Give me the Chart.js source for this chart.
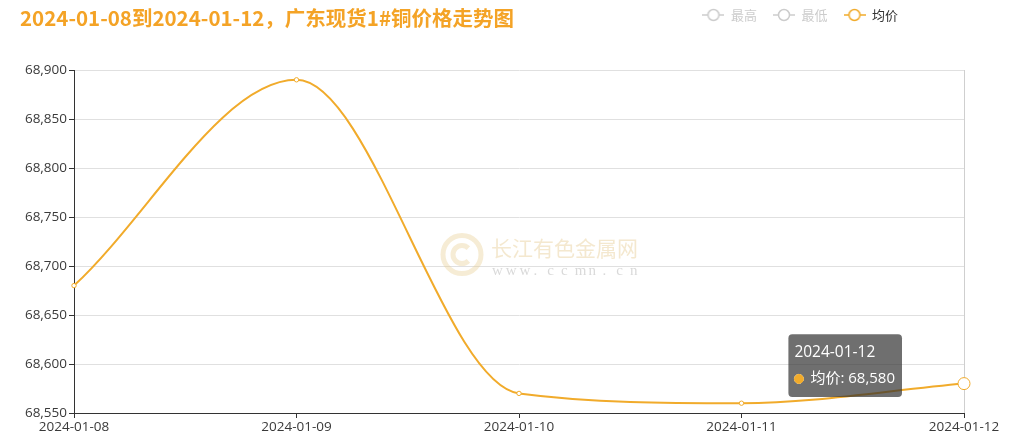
<!DOCTYPE html>
<html>
<head>
<meta charset="utf-8">
<script src="https://cdn.jsdelivr.net/npm/chart.js@4/dist/chart.umd.min.js"></script>
<style>
  html, body { margin: 0; padding: 0; background: #fff; }
  #wrap { width: 1014px; height: 442px; position: relative; }
</style>
</head>
<body>
<div id="wrap"><canvas id="price_chart" width="1014" height="442"></canvas></div>
<script>
//chart data
var dates = ['2024-01-08', '2024-01-09', '2024-01-10', '2024-01-11', '2024-01-12'];
var avgPrice = [68680, 68890, 68570, 68560, 68580];
var highPrice = [];
var lowPrice = [];
var yMin = 68550, yMax = 68900, yStep = 50;

var titleText = '2024-01-08到2024-01-12，广东现货1#铜价格走势图';
var seriesNames = ['最高', '最低', '均价'];

var orange = '#f1ab2b';
var gray = '#cccccc';
var tickFont = { family: "'Open Sans', 'Noto Sans CJK SC', sans-serif", size: 13.5 };

//little "-o-" icon used by the legend
function legendIcon(color)
{
    var c = document.createElement('canvas');
    c.width = 22; c.height = 14;
    var g = c.getContext('2d');
    g.strokeStyle = color;
    g.lineWidth = 1.5;
    g.beginPath(); g.moveTo(0, 7); g.lineTo(22, 7); g.stroke();
    g.fillStyle = '#fff';
    g.beginPath(); g.arc(11, 7, 5.5, 0, Math.PI * 2); g.fill(); g.stroke();
    return c;
}

//tooltip sits to the upper left of the hovered point
Chart.Tooltip.positioners.leftOf = function(items)
{
    if (!items.length) return false;
    var el = items[0].element;
    return { x: el.x - 62, y: el.y - 18 };
};

//faint site watermark in the middle of the plot
var watermark = {
    id: 'watermark',
    beforeDatasetsDraw: function(chart)
    {
        var ctx = chart.ctx, a = chart.chartArea;
        var cx = (a.left + a.right) / 2, cy = (a.top + a.bottom) / 2;
        ctx.save();
        //logo ring
        ctx.strokeStyle = 'rgba(232, 208, 150, 0.4)';
        ctx.lineWidth = 5;
        ctx.beginPath(); ctx.arc(cx - 57, cy + 13, 19, 0, Math.PI * 2); ctx.stroke();
        ctx.beginPath(); ctx.arc(cx - 57, cy + 13, 9, Math.PI * 0.25, Math.PI * 1.75, false); ctx.stroke();
        //site name
        ctx.fillStyle = 'rgba(228, 200, 140, 0.42)';
        ctx.font = "21px 'Noto Sans CJK SC', sans-serif";
        ctx.textBaseline = 'middle';
        ctx.fillText('长江有色金属网', cx - 28, cy + 7);
        ctx.fillStyle = 'rgba(160, 160, 160, 0.4)';
        ctx.font = "15px 'Liberation Serif', serif";
        var url = 'www.ccmn.cn';
        for (var i = 0; i < url.length; i++)
            ctx.fillText(url[i], cx - 27 + i * 13.8, cy + 30);
        ctx.restore();
    }
};

//move the legend up beside the title
var legendPlace = {
    id: 'legendPlace',
    afterLayout: function(chart)
    {
        var lg = chart.legend;
        if (!lg) return;
        lg.top = 15 - lg.options.labels.padding - 6.5;
        lg.bottom = lg.top + lg.height;
        lg.right = lg.right - 50;
    }
};

var ctx = document.getElementById('price_chart');
var priceChart = new Chart(ctx, {
    type: 'line',
    data: {
        labels: dates,
        datasets: [
            { label: seriesNames[0], data: highPrice, borderColor: gray, backgroundColor: '#fff' },
            { label: seriesNames[1], data: lowPrice, borderColor: gray, backgroundColor: '#fff' },
            {
                label: seriesNames[2],
                data: avgPrice,
                borderColor: orange,
                backgroundColor: orange,
                borderWidth: 2,
                cubicInterpolationMode: 'monotone',
                pointRadius: 2.2,
                pointBorderWidth: 1,
                pointBackgroundColor: '#fff',
                pointBorderColor: orange,
                pointHoverRadius: 6,
                pointHoverBorderWidth: 1,
                pointHoverBackgroundColor: '#fff',
                pointHoverBorderColor: orange
            }
        ]
    },
    options: {
        responsive: false,
        animation: false,
        events: [],
        layout: { padding: { left: 20, right: 50, top: 0, bottom: 0 } },
        scales: {
            x: {
                offset: false,
                border: { color: '#333', width: 1 },
                grid: {
                    color: function(c) { return c.index === dates.length - 1 ? '#cfcfcf' : 'rgba(0,0,0,0)'; },
                    tickColor: '#333',
                    tickLength: 5
                },
                ticks: { color: '#3a3a3a', font: tickFont, padding: 1, maxRotation: 0 },
                afterFit: function(s) { s.height = 29; }
            },
            y: {
                min: yMin,
                max: yMax,
                border: { color: '#333', width: 1 },
                grid: { color: '#e0e0e0', tickColor: '#333', tickLength: 5 },
                ticks: { stepSize: yStep, color: '#3a3a3a', font: tickFont, padding: 2 },
                afterFit: function(s) { s.width = 54; }
            }
        },
        plugins: {
            title: {
                display: true,
                text: titleText,
                align: 'start',
                color: '#f4a326',
                font: { family: "'Noto Sans CJK SC', sans-serif", size: 20.5, weight: 'bold', lineHeight: 1.0 },
                padding: { top: 8, bottom: 2.5 }
            },
            legend: {
                display: true,
                position: 'top',
                align: 'end',
                labels: {
                    usePointStyle: true,
                    pointStyleWidth: 22,
                    padding: 16,
                    font: { family: "'Noto Sans CJK SC', sans-serif", size: 13 },
                    generateLabels: function(chart)
                    {
                        return chart.data.datasets.map(function(ds, i) {
                            var on = i === 2;
                            return {
                                text: ds.label,
                                datasetIndex: i,
                                hidden: false,
                                pointStyle: legendIcon(on ? orange : gray),
                                fontColor: on ? '#333' : gray,
                                fillStyle: '#fff',
                                strokeStyle: on ? orange : gray,
                                lineWidth: 1
                            };
                        });
                    }
                }
            },
            tooltip: {
                enabled: true,
                position: 'leftOf',
                xAlign: 'right',
                yAlign: 'center',
                caretSize: 0,
                caretPadding: 0,
                cornerRadius: 4,
                backgroundColor: 'rgba(50,50,50,0.7)',
                titleColor: '#fff',
                bodyColor: '#fff',
                titleFont: { family: "'Open Sans', 'Noto Sans CJK SC', sans-serif", size: 15.5, weight: 'normal' },
                bodyFont: { family: "'Open Sans', 'Noto Sans CJK SC', sans-serif", size: 15 },
                titleMarginBottom: 8,
                padding: { left: 6, right: 7, top: 9, bottom: 9 },
                usePointStyle: true,
                boxWidth: 9,
                boxHeight: 9,
                boxPadding: 5,
                callbacks: {
                    label: function(c) { return c.dataset.label + ': ' + c.formattedValue; },
                    labelColor: function() { return { borderColor: orange, backgroundColor: orange }; },
                    labelPointStyle: function() { return { pointStyle: 'circle', rotation: 0 }; }
                }
            }
        }
    },
    plugins: [watermark, legendPlace]
});

//show the tooltip on the last day like the picture
var active = [{ datasetIndex: 2, index: dates.length - 1 }];
priceChart.setActiveElements(active);
priceChart.tooltip.setActiveElements(active, { x: 0, y: 0 });
priceChart.update();
</script>
</body>
</html>
